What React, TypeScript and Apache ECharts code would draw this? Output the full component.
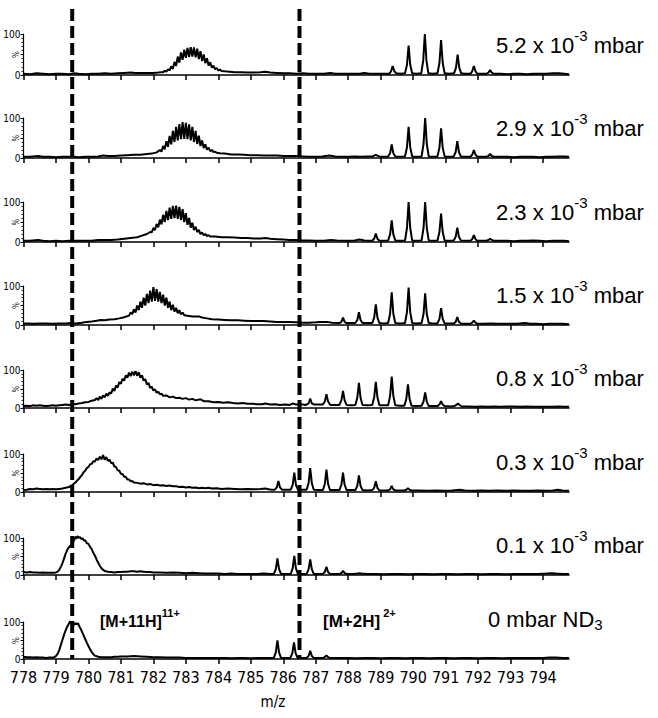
import React, { useEffect, useRef } from "react";
import * as echarts from "echarts";

// ---------- data ----------
const X_MIN = 778;
const X_MAX = 794.8;
const X_TICKS = [778, 779, 780, 781, 782, 783, 784, 785, 786, 787, 788, 789, 790, 791, 792, 793, 794];
const DASH_MZ = [779.5, 786.5];
const PRESSURES = ["5.2", "2.9", "2.3", "1.5", "0.8", "0.3", "0.1"];
const ION_LABELS = ["[M+11H]", "11+", "[M+2H]", " 2+"];

const spec52 = [
  [778.0, 3], [778.2, 2], [778.4, 4], [778.6, 3], [778.8, 2], [779.0, 3], [779.2, 3], [779.4, 2], [779.55, 4], [779.7, 3], [779.9, 2], [780.1, 3], [780.3, 3], [780.5, 4], [780.7, 3], [780.9, 4], [781.1, 5], [781.3, 6], [781.45, 5], [781.6, 5], [781.8, 5], [782.0, 5], [782.15, 6], [782.25, 7],
  [782.3, 7], [782.35, 10], [782.4, 8], [782.45, 14], [782.5, 11], [782.55, 21], [782.6, 15], [782.65, 32], [782.7, 22], [782.75, 45], [782.8, 30], [782.85, 55], [782.9, 37], [782.95, 62], [783.0, 42], [783.05, 66], [783.1, 44], [783.15, 68], [783.2, 45], [783.25, 67], [783.3, 43], [783.35, 64], [783.4, 39], [783.45, 58], [783.5, 34], [783.55, 50], [783.6, 29], [783.65, 41], [783.7, 23], [783.75, 31], [783.8, 18], [783.85, 23], [783.9, 14], [783.95, 17], [784.0, 11], [784.05, 13], [784.1, 10],
  [784.2, 9], [784.35, 8], [784.5, 7], [784.7, 7], [784.9, 6], [785.1, 6], [785.3, 7], [785.45, 8], [785.6, 6], [785.8, 5], [786.0, 4], [786.2, 4], [786.4, 3], [786.6, 4], [786.8, 3], [787.0, 3], [787.25, 3], [787.45, 5], [787.6, 3], [787.9, 3], [788.1, 3], [788.35, 3], [788.5, 5], [788.65, 3], [788.9, 3], [789.1, 3],
  [789.26, 3], [789.32, 9], [789.37, 22], [789.42, 9], [789.48, 4], [789.6, 3], [789.75, 4], [789.81, 25], [789.86, 72], [789.91, 25], [789.97, 4], [790.1, 3], [790.25, 4], [790.31, 35], [790.36, 100], [790.41, 35], [790.47, 4], [790.6, 3], [790.75, 4], [790.81, 30], [790.86, 85], [790.91, 30], [790.97, 4], [791.1, 3], [791.26, 4], [791.32, 18], [791.37, 50], [791.42, 18], [791.48, 4], [791.6, 3], [791.76, 3], [791.82, 9], [791.87, 22], [791.92, 9], [791.98, 3], [792.1, 3], [792.26, 3], [792.32, 6], [792.37, 12], [792.42, 6], [792.48, 3],
  [792.7, 3], [792.9, 2], [793.1, 3], [793.3, 3], [793.5, 2], [793.7, 3], [793.9, 3], [794.1, 3], [794.3, 4], [794.5, 4], [794.65, 3], [794.8, 2],
];

const spec29 = [
  [778.0, 3], [778.2, 3], [778.45, 5], [778.6, 3], [778.8, 3], [779.0, 2], [779.2, 3], [779.4, 3], [779.55, 3], [779.7, 2], [779.9, 3], [780.1, 3], [780.3, 4], [780.45, 6], [780.6, 5], [780.8, 5], [781.0, 6], [781.2, 7], [781.4, 8], [781.6, 8], [781.8, 10], [781.95, 11], [782.1, 14],
  [782.2, 20], [782.25, 16], [782.3, 30], [782.35, 22], [782.4, 42], [782.45, 28], [782.5, 55], [782.55, 34], [782.6, 68], [782.65, 40], [782.7, 78], [782.75, 44], [782.8, 85], [782.85, 47], [782.9, 90], [782.95, 48], [783.0, 88], [783.05, 47], [783.1, 84], [783.15, 44], [783.2, 78], [783.25, 40], [783.3, 68], [783.35, 35], [783.4, 56], [783.45, 30], [783.5, 44], [783.55, 25], [783.6, 34], [783.65, 21], [783.7, 26], [783.75, 17], [783.8, 20], [783.85, 15], [783.9, 16], [783.95, 13],
  [784.05, 12], [784.2, 11], [784.4, 9], [784.6, 9], [784.8, 8], [785.0, 7], [785.2, 7], [785.4, 6], [785.6, 6], [785.8, 6], [786.0, 5], [786.2, 5], [786.4, 5], [786.6, 4], [786.8, 3], [787.0, 3], [787.2, 4], [787.42, 6], [787.6, 4], [787.8, 3], [788.0, 3], [788.2, 4], [788.4, 3], [788.6, 4], [788.75, 4], [788.85, 8], [788.95, 4], [789.1, 3],
  [789.23, 4], [789.29, 12], [789.34, 34], [789.39, 12], [789.45, 4], [789.6, 3], [789.75, 4], [789.81, 27], [789.86, 78], [789.91, 27], [789.97, 4], [790.1, 3], [790.26, 4], [790.32, 35], [790.37, 100], [790.42, 35], [790.48, 4], [790.6, 3], [790.75, 4], [790.81, 26], [790.86, 74], [790.91, 26], [790.97, 4], [791.1, 3], [791.25, 4], [791.31, 15], [791.36, 42], [791.41, 15], [791.47, 4], [791.6, 3], [791.76, 3], [791.82, 8], [791.87, 20], [791.92, 8], [791.98, 3], [792.1, 3], [792.26, 3], [792.32, 5], [792.37, 10], [792.42, 5], [792.48, 3],
  [792.7, 3], [792.9, 3], [793.1, 2], [793.3, 3], [793.5, 3], [793.7, 3], [793.9, 2], [794.1, 3], [794.3, 3], [794.5, 4], [794.65, 4], [794.8, 3],
];

const spec23 = [
  [778.0, 3], [778.2, 3], [778.45, 5], [778.6, 3], [778.8, 2], [779.0, 3], [779.2, 2], [779.4, 3], [779.55, 3], [779.7, 3], [779.9, 3], [780.1, 3], [780.3, 5], [780.5, 5], [780.7, 5], [780.9, 6], [781.1, 8], [781.3, 10], [781.5, 12], [781.65, 16], [781.8, 20], [781.9, 25],
  [781.95, 24], [782.0, 35], [782.05, 30], [782.1, 45], [782.15, 37], [782.2, 56], [782.25, 44], [782.3, 68], [782.35, 50], [782.4, 78], [782.45, 55], [782.5, 86], [782.55, 58], [782.6, 90], [782.65, 60], [782.7, 91], [782.75, 58], [782.8, 88], [782.85, 55], [782.9, 82], [782.95, 50], [783.0, 72], [783.05, 43], [783.1, 60], [783.15, 36], [783.2, 48], [783.25, 30], [783.3, 38], [783.35, 25], [783.4, 30], [783.45, 20], [783.5, 24], [783.55, 17], [783.6, 20], [783.65, 15], [783.7, 17], [783.75, 14],
  [783.9, 14], [784.1, 12], [784.3, 12], [784.5, 11], [784.7, 10], [784.9, 10], [785.1, 9], [785.3, 9], [785.45, 10], [785.6, 8], [785.8, 7], [786.0, 6], [786.2, 5], [786.4, 5], [786.6, 4], [786.8, 4], [787.0, 3], [787.25, 3], [787.47, 5], [787.65, 4], [787.85, 3], [788.05, 3], [788.2, 4], [788.35, 6], [788.5, 4], [788.65, 3],
  [788.74, 3], [788.8, 8], [788.85, 21], [788.9, 8], [788.96, 3], [789.1, 3], [789.23, 4], [789.29, 19], [789.34, 54], [789.39, 19], [789.45, 4], [789.6, 3], [789.75, 4], [789.81, 35], [789.86, 100], [789.91, 35], [789.97, 4], [790.1, 3], [790.26, 4], [790.32, 35], [790.37, 100], [790.42, 35], [790.48, 4], [790.6, 3], [790.75, 4], [790.81, 25], [790.86, 71], [790.91, 25], [790.97, 4], [791.1, 3], [791.25, 4], [791.31, 13], [791.36, 36], [791.41, 13], [791.47, 4], [791.6, 3], [791.76, 3], [791.82, 7], [791.87, 17], [791.92, 7], [791.98, 3], [792.1, 3], [792.26, 3], [792.32, 5], [792.37, 8], [792.42, 5], [792.48, 3],
  [792.7, 3], [792.9, 3], [793.1, 2], [793.3, 3], [793.5, 3], [793.7, 4], [793.9, 3], [794.1, 2], [794.3, 3], [794.5, 3], [794.65, 3], [794.8, 2],
];

const spec15 = [
  [778.0, 4], [778.15, 4], [778.3, 3], [778.5, 4], [778.7, 4], [778.9, 3], [779.1, 4], [779.3, 4], [779.45, 5], [779.6, 4], [779.8, 6], [779.95, 8], [780.1, 9], [780.25, 11], [780.38, 13], [780.5, 12], [780.65, 14], [780.8, 15], [780.95, 17], [781.1, 20], [781.25, 24],
  [781.3, 32], [781.35, 28], [781.4, 40], [781.45, 32], [781.5, 50], [781.55, 38], [781.6, 60], [781.65, 44], [781.7, 70], [781.75, 50], [781.8, 80], [781.85, 56], [781.9, 88], [781.95, 60], [782.0, 97], [782.05, 62], [782.1, 92], [782.15, 60], [782.2, 85], [782.25, 56], [782.3, 78], [782.35, 50], [782.4, 70], [782.45, 44], [782.5, 60], [782.55, 38], [782.6, 52], [782.65, 34], [782.7, 44], [782.75, 30], [782.8, 38], [782.85, 27], [782.9, 32], [782.95, 25],
  [783.05, 24], [783.2, 22], [783.4, 22], [783.5, 19], [783.65, 17], [783.8, 15], [784.0, 14], [784.2, 13], [784.4, 12], [784.6, 12], [784.8, 11], [785.0, 10], [785.2, 10], [785.4, 10], [785.6, 9], [785.8, 8], [786.0, 8], [786.2, 8], [786.4, 7], [786.6, 6], [786.8, 6], [787.0, 7], [787.15, 8], [787.35, 8], [787.5, 6], [787.7, 5],
  [787.73, 5], [787.79, 8], [787.84, 19], [787.89, 8], [787.95, 5], [788.1, 5], [788.22, 5], [788.28, 13], [788.33, 33], [788.38, 13], [788.44, 5], [788.6, 5], [788.74, 5], [788.8, 19], [788.85, 53], [788.9, 19], [788.96, 5], [789.1, 4], [789.23, 5], [789.29, 29], [789.34, 84], [789.39, 29], [789.45, 5], [789.6, 4], [789.75, 5], [789.81, 33], [789.86, 96], [789.91, 33], [789.97, 5], [790.1, 4], [790.26, 5], [790.32, 28], [790.37, 81], [790.42, 28], [790.48, 5], [790.6, 4], [790.75, 4], [790.81, 16], [790.86, 43], [790.91, 16], [790.97, 4], [791.1, 4], [791.25, 4], [791.31, 8], [791.36, 20], [791.41, 8], [791.47, 4], [791.6, 3], [791.76, 3], [791.82, 6], [791.87, 11], [791.92, 6], [791.98, 3],
  [792.15, 3], [792.4, 4], [792.6, 3], [792.8, 3], [793.0, 3], [793.2, 3], [793.45, 5], [793.6, 3], [793.8, 3], [794.0, 2], [794.2, 3], [794.4, 3], [794.6, 3], [794.8, 2],
];

const spec08 = [
  [778.0, 5], [778.1, 6], [778.2, 5], [778.3, 7], [778.4, 6], [778.5, 7], [778.6, 6], [778.7, 5], [778.8, 6], [778.9, 7], [779.0, 6], [779.1, 7], [779.2, 8], [779.3, 9], [779.4, 8], [779.5, 11], [779.6, 10], [779.7, 12], [779.8, 13], [779.9, 15], [780.0, 16], [780.1, 19], [780.2, 21],
  [780.25, 26], [780.3, 21], [780.35, 30], [780.4, 24], [780.45, 33], [780.5, 28], [780.55, 38], [780.6, 32], [780.65, 41], [780.7, 38], [780.75, 51], [780.8, 45], [780.85, 59], [780.9, 54], [780.95, 68], [781.0, 64], [781.05, 77], [781.1, 72], [781.15, 86], [781.2, 80], [781.25, 93], [781.3, 84], [781.35, 96], [781.4, 86], [781.45, 97], [781.5, 85], [781.55, 94], [781.6, 80], [781.65, 86], [781.7, 72], [781.75, 76], [781.8, 62], [781.85, 66], [781.9, 53], [781.95, 56], [782.0, 46], [782.05, 49], [782.1, 40], [782.15, 43], [782.2, 36], [782.25, 38], [782.3, 32],
  [782.4, 33], [782.5, 28], [782.6, 30], [782.7, 26], [782.8, 27], [782.9, 24], [783.0, 26], [783.1, 22], [783.2, 24], [783.3, 20], [783.45, 23], [783.55, 18], [783.7, 18], [783.85, 15], [784.0, 16], [784.15, 14], [784.3, 15], [784.45, 13], [784.6, 12], [784.75, 13], [784.9, 11], [785.05, 11], [785.2, 10], [785.35, 10], [785.45, 12], [785.6, 9], [785.75, 10], [785.9, 8], [786.05, 9], [786.2, 8], [786.3, 12], [786.4, 9], [786.55, 10], [786.7, 8],
  [786.72, 8], [786.78, 12], [786.83, 25], [786.88, 12], [786.95, 9], [787.1, 9], [787.22, 9], [787.28, 17], [787.33, 36], [787.38, 17], [787.45, 8], [787.6, 8], [787.73, 8], [787.79, 20], [787.84, 45], [787.89, 20], [787.95, 8], [788.1, 7], [788.22, 8], [788.28, 27], [788.33, 66], [788.38, 27], [788.44, 8], [788.6, 7], [788.74, 8], [788.8, 28], [788.85, 69], [788.9, 28], [788.96, 7], [789.1, 7], [789.23, 7], [789.29, 32], [789.34, 83], [789.39, 32], [789.45, 7], [789.6, 6], [789.73, 6], [789.79, 24], [789.84, 62], [789.89, 24], [789.95, 6], [790.1, 5], [790.26, 6], [790.32, 17], [790.37, 41], [790.42, 17], [790.48, 5], [790.6, 5], [790.75, 5], [790.81, 9], [790.86, 18], [790.91, 9], [790.97, 5], [791.15, 4], [791.27, 5], [791.33, 8], [791.38, 12], [791.43, 8], [791.5, 4],
  [791.7, 4], [791.9, 3], [792.1, 4], [792.3, 3], [792.5, 4], [792.7, 3], [792.9, 4], [793.1, 4], [793.3, 3], [793.5, 4], [793.7, 3], [793.9, 3], [794.1, 3], [794.3, 3], [794.5, 4], [794.65, 3], [794.8, 3],
];

const spec03 = [
  [778.0, 5], [778.1, 6], [778.2, 8], [778.3, 7], [778.4, 9], [778.5, 8], [778.6, 7], [778.7, 8], [778.8, 7], [778.9, 8], [779.0, 7], [779.1, 8], [779.2, 9], [779.3, 11], [779.4, 13],
  [779.45, 16], [779.5, 18], [779.55, 22], [779.6, 25], [779.65, 30], [779.7, 34], [779.75, 40], [779.8, 44], [779.85, 52], [779.9, 56], [779.95, 63], [780.0, 66], [780.05, 73], [780.1, 74], [780.15, 81], [780.2, 80], [780.25, 88], [780.3, 84], [780.35, 93], [780.4, 86], [780.45, 97], [780.5, 85], [780.55, 92], [780.6, 82], [780.65, 85], [780.7, 76], [780.75, 77], [780.8, 67], [780.85, 66], [780.9, 57], [780.95, 56], [781.0, 48], [781.05, 47], [781.1, 40], [781.15, 40], [781.2, 33], [781.25, 33], [781.3, 28], [781.35, 29], [781.4, 25],
  [781.5, 24], [781.6, 22], [781.7, 23], [781.8, 20], [781.9, 21], [782.0, 18], [782.1, 19], [782.2, 17], [782.3, 18], [782.4, 16], [782.5, 17], [782.6, 15], [782.7, 15], [782.8, 13], [782.9, 14], [783.0, 12], [783.1, 13], [783.2, 11], [783.3, 12], [783.4, 10], [783.5, 11], [783.6, 10], [783.7, 11], [783.8, 9], [783.95, 10], [784.1, 8], [784.3, 9], [784.5, 8], [784.7, 7], [784.9, 8], [785.1, 7], [785.3, 8], [785.45, 9], [785.55, 7], [785.65, 6],
  [785.74, 6], [785.8, 12], [785.85, 29], [785.9, 12], [785.96, 6], [786.1, 6], [786.23, 6], [786.29, 19], [786.34, 51], [786.39, 19], [786.45, 6], [786.6, 6], [786.72, 6], [786.78, 23], [786.83, 63], [786.88, 23], [786.94, 6], [787.1, 5], [787.22, 5], [787.28, 21], [787.33, 59], [787.38, 21], [787.44, 5], [787.6, 5], [787.73, 5], [787.79, 19], [787.84, 51], [787.89, 19], [787.95, 5], [788.1, 5], [788.22, 5], [788.28, 16], [788.33, 44], [788.38, 16], [788.44, 5], [788.6, 4], [788.74, 5], [788.8, 11], [788.85, 28], [788.9, 11], [788.96, 4], [789.1, 4], [789.23, 4], [789.29, 7], [789.34, 16], [789.39, 7], [789.45, 4], [789.6, 4], [789.73, 4], [789.79, 6], [789.84, 10], [789.89, 6], [789.95, 4],
  [790.2, 4], [790.45, 3], [790.7, 4], [790.95, 3], [791.2, 4], [791.43, 6], [791.6, 4], [791.85, 3], [792.1, 4], [792.35, 3], [792.6, 4], [792.85, 3], [793.1, 4], [793.35, 3], [793.6, 3], [793.85, 4], [794.1, 3], [794.3, 4], [794.45, 6], [794.6, 4], [794.8, 3],
];

const spec01 = [
  [778.0, 8], [778.1, 7], [778.2, 8], [778.3, 7], [778.4, 7], [778.5, 6], [778.6, 7], [778.7, 6], [778.8, 6], [778.9, 6], [779.0, 7],
  [779.05, 9], [779.1, 14], [779.15, 22], [779.2, 32], [779.25, 45], [779.3, 58], [779.35, 68], [779.4, 75], [779.45, 80], [779.5, 86], [779.55, 92], [779.6, 104], [779.63, 98], [779.66, 105], [779.7, 100], [779.74, 103], [779.78, 97], [779.82, 99], [779.86, 93], [779.9, 94], [779.95, 86], [780.0, 84], [780.05, 76], [780.1, 70], [780.15, 60], [780.2, 52], [780.25, 42], [780.3, 33], [780.35, 25], [780.4, 18], [780.45, 14], [780.5, 11],
  [780.6, 9], [780.7, 8], [780.8, 7], [780.9, 8], [781.0, 8], [781.1, 9], [781.2, 9], [781.3, 10], [781.4, 10], [781.5, 9], [781.6, 10], [781.7, 9], [781.8, 8], [781.9, 8], [782.0, 7], [782.2, 7], [782.4, 6], [782.6, 7], [782.8, 6], [783.0, 5], [783.2, 6], [783.4, 5], [783.6, 4], [783.8, 4], [784.0, 4], [784.2, 3], [784.4, 4], [784.6, 3], [784.8, 3], [785.0, 3], [785.2, 3], [785.4, 4], [785.6, 3],
  [785.71, 3], [785.77, 16], [785.82, 45], [785.87, 16], [785.93, 3], [786.1, 3], [786.23, 3], [786.29, 18], [786.34, 52], [786.39, 18], [786.45, 3], [786.6, 3], [786.72, 3], [786.78, 15], [786.83, 42], [786.88, 15], [786.94, 3], [787.1, 3], [787.22, 3], [787.28, 8], [787.33, 22], [787.38, 8], [787.44, 3], [787.6, 3], [787.73, 3], [787.79, 5], [787.84, 11], [787.89, 5], [787.95, 3], [788.15, 3], [788.3, 4], [788.35, 5], [788.4, 4],
  [788.6, 3], [788.85, 3], [789.1, 2], [789.35, 3], [789.6, 3], [789.85, 2], [790.1, 3], [790.35, 3], [790.6, 2], [790.85, 3], [791.1, 3], [791.35, 2], [791.6, 3], [791.85, 3], [792.1, 2], [792.35, 3], [792.6, 3], [792.85, 2], [793.1, 3], [793.35, 3], [793.6, 3], [793.85, 3], [794.1, 4], [794.25, 5], [794.4, 4], [794.6, 3], [794.8, 3],
];

const spec00 = [
  [778.0, 6], [778.1, 5], [778.2, 5], [778.3, 4], [778.4, 5], [778.5, 4], [778.6, 4], [778.7, 3], [778.8, 4], [778.9, 4], [778.95, 5],
  [779.0, 8], [779.05, 14], [779.1, 24], [779.15, 38], [779.2, 52], [779.25, 66], [779.3, 78], [779.35, 88], [779.4, 96], [779.44, 102], [779.48, 96], [779.52, 100], [779.56, 92], [779.6, 97], [779.64, 94], [779.68, 96], [779.72, 88], [779.76, 82], [779.8, 74], [779.85, 64], [779.9, 54], [779.95, 44], [780.0, 35], [780.05, 26], [780.1, 19], [780.15, 13], [780.2, 9],
  [780.3, 6], [780.4, 5], [780.5, 5], [780.6, 5], [780.7, 5], [780.8, 6], [780.9, 6], [781.0, 7], [781.2, 7], [781.4, 8], [781.6, 7], [781.8, 6], [782.0, 5], [782.2, 5], [782.4, 4], [782.6, 4], [782.8, 4], [783.0, 3], [783.2, 3], [783.4, 3], [783.6, 3], [783.8, 3], [784.0, 3], [784.2, 3], [784.4, 2], [784.6, 3], [784.8, 3], [785.0, 2], [785.2, 3], [785.4, 3], [785.6, 3],
  [785.71, 3], [785.77, 18], [785.82, 50], [785.87, 18], [785.93, 3], [786.1, 3], [786.22, 3], [786.28, 16], [786.33, 45], [786.38, 16], [786.44, 3], [786.6, 3], [786.72, 3], [786.78, 8], [786.83, 22], [786.88, 8], [786.94, 3], [787.1, 3], [787.22, 3], [787.28, 5], [787.33, 10], [787.38, 5], [787.44, 3], [787.6, 3], [787.8, 3],
  [788.0, 3], [788.25, 2], [788.5, 3], [788.75, 3], [789.0, 2], [789.25, 3], [789.5, 3], [789.75, 2], [790.0, 3], [790.25, 3], [790.5, 2], [790.75, 3], [791.0, 3], [791.25, 2], [791.5, 3], [791.75, 3], [792.0, 2], [792.25, 3], [792.5, 3], [792.75, 2], [793.0, 3], [793.25, 3], [793.5, 3], [793.75, 3], [794.0, 3], [794.2, 4], [794.4, 4], [794.6, 3], [794.8, 3],
];

const SPECTRA = [spec52, spec29, spec23, spec15, spec08, spec03, spec01, spec00];

// ---------- layout ----------
const AXIS_Y = [75, 158, 242, 325, 408, 492, 575, 659];
const PANEL_H = [41, 40, 40, 39, 38, 38, 37, 37];
const PLOT_LEFT = 23.5;
const PLOT_W = 545.5;
const NARROW = "'Liberation Sans Narrow', 'Arial Narrow', 'DejaVu Sans Condensed', sans-serif";
const SANS = "'Liberation Sans', Arial, Helvetica, sans-serif";

export default function App() {
  const ref = useRef<HTMLDivElement>(null);

  useEffect(() => {
    if (!ref.current) return;
    const chart = echarts.init(ref.current, undefined, { renderer: "svg" });
    const n = SPECTRA.length;

    const grids: any[] = SPECTRA.map((_, i) => ({
      left: PLOT_LEFT,
      width: PLOT_W,
      top: AXIS_Y[i] - PANEL_H[i],
      height: PANEL_H[i],
      containLabel: false,
      outerBoundsMode: "none",
    }));
    grids.push({
      left: PLOT_LEFT,
      width: PLOT_W,
      top: 9,
      height: AXIS_Y[n - 1] - 9,
      containLabel: false,
      outerBoundsMode: "none",
    });

    const xAxes: any[] = SPECTRA.map((_, i) => ({
      gridIndex: i,
      type: "value",
      min: X_MIN,
      max: X_MAX,
      interval: 1,
      axisLine: { show: true, onZero: false, lineStyle: { color: "#000", width: 1.6 } },
      axisTick: { show: true, length: 5, lineStyle: { color: "#000", width: 1.5 }, customValues: X_TICKS },
      axisLabel: {
        show: i === n - 1,
        customValues: X_TICKS,
        color: "#000",
        fontSize: 16,
        fontFamily: NARROW,
        margin: 10,
      },
      splitLine: { show: false },
    }));
    xAxes.push({ gridIndex: n, type: "value", min: X_MIN, max: X_MAX, show: false });

    const yAxes: any[] = SPECTRA.map((_, i) => ({
      gridIndex: i,
      type: "value",
      min: 0,
      max: 100,
      interval: 50,
      axisLine: { show: true, onZero: false, lineStyle: { color: "#000", width: 1.2 } },
      axisTick: { show: true, length: 3, lineStyle: { color: "#000", width: 1 } },
      minorTick: { show: true, splitNumber: 5, length: 2, lineStyle: { color: "#000", width: 0.8 } },
      splitLine: { show: false },
      axisLabel: {
        formatter: (v: number) => (v === 50 ? "" : String(v)),
        color: "#000",
        fontSize: 10,
        fontFamily: NARROW,
        margin: 3,
      },
      name: "%",
      nameLocation: "middle",
      nameRotate: 90,
      nameGap: 3,
      nameMoveOverlap: false,
      nameTextStyle: { fontSize: 8, color: "#000", fontFamily: NARROW, verticalAlign: "bottom" },
    }));
    yAxes.push({ gridIndex: n, type: "value", min: 0, max: 1, show: false });

    const series: any[] = SPECTRA.map((d, i) => ({
      type: "line",
      xAxisIndex: i,
      yAxisIndex: i,
      data: d,
      showSymbol: false,
      symbol: "none",
      clip: false,
      silent: true,
      lineStyle: { color: "#000", width: 2 },
      z: 2,
    }));
    DASH_MZ.forEach((mz) => {
      series.push({
        type: "line",
        xAxisIndex: n,
        yAxisIndex: n,
        data: [
          [mz, 1],
          [mz, 0],
        ],
        showSymbol: false,
        symbol: "none",
        silent: true,
        lineStyle: { color: "#000", width: 4, type: [12, 5], cap: "butt" },
        z: 3,
      });
    });

    const graphics: any[] = [];
    PRESSURES.forEach((p, i) => {
      graphics.push({
        type: "text",
        x: 496,
        y: AXIS_Y[i] - 30,
        style: {
          text: `{a|${p} x 10}{s|-3}{a| mbar}`,
          textAlign: "left",
          textVerticalAlign: "middle",
          verticalAlign: "middle",
          fill: "#000",
          rich: {
            a: { fontSize: 22, fontFamily: SANS, lineHeight: 34, fill: "#000", color: "#000" },
            s: { fontSize: 15, fontFamily: SANS, lineHeight: 15, verticalAlign: "top", fill: "#000", color: "#000" },
          },
        },
      });
    });
    graphics.push({
      type: "text",
      x: 488,
      y: 619,
      style: {
        text: "{a|0 mbar ND}{s|3}",
        textAlign: "left",
        textVerticalAlign: "middle",
        verticalAlign: "middle",
        fill: "#000",
        rich: {
          a: { fontSize: 22, fontFamily: SANS, lineHeight: 26, fill: "#000", color: "#000" },
          s: { fontSize: 15, fontFamily: SANS, lineHeight: 15, verticalAlign: "bottom", fill: "#000", color: "#000" },
        },
      },
    });
    graphics.push({
      type: "text",
      x: 100,
      y: 621,
      style: {
        text: `{a|${ION_LABELS[0]}}{s|${ION_LABELS[1]}}`,
        textAlign: "left",
        textVerticalAlign: "middle",
        verticalAlign: "middle",
        fill: "#000",
        rich: {
          a: { fontSize: 16, fontWeight: "bold", fontFamily: SANS, lineHeight: 28, fill: "#000", color: "#000" },
          s: { fontSize: 11, fontWeight: "bold", fontFamily: SANS, lineHeight: 11, verticalAlign: "top", fill: "#000", color: "#000" },
        },
      },
    });
    graphics.push({
      type: "text",
      x: 323,
      y: 621,
      style: {
        text: `{a|${ION_LABELS[2]}}{s|${ION_LABELS[3]}}`,
        textAlign: "left",
        textVerticalAlign: "middle",
        verticalAlign: "middle",
        fill: "#000",
        rich: {
          a: { fontSize: 17, fontWeight: "bold", fontFamily: SANS, lineHeight: 28, fill: "#000", color: "#000" },
          s: { fontSize: 11, fontWeight: "bold", fontFamily: SANS, lineHeight: 11, verticalAlign: "top", fill: "#000", color: "#000" },
        },
      },
    });
    graphics.push({
      type: "text",
      x: 273,
      y: 702,
      style: {
        text: "m/z",
        textAlign: "center",
        textVerticalAlign: "middle",
        verticalAlign: "middle",
        fill: "#000",
        font: `15px ${NARROW}`,
      },
    });

    chart.setOption({
      animation: false,
      backgroundColor: "#fff",
      grid: grids,
      xAxis: xAxes,
      yAxis: yAxes,
      series,
      graphic: { elements: graphics },
    });

    return () => chart.dispose();
  }, []);

  return (
    <div
      ref={ref}
      style={{ position: "absolute", left: 0, top: 0, width: 658, height: 718 }}
    />
  );
}
